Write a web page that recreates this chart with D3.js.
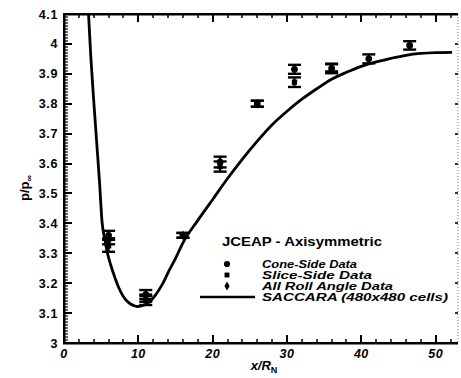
<!DOCTYPE html>
<html>
<head>
<meta charset="utf-8">
<script src="https://cdn.jsdelivr.net/npm/d3@7"></script>
<style>
  html, body { margin: 0; padding: 0; background: #fff; }
  svg { display: block; }
  .lbl { font-family: "Liberation Sans", Arial, Helvetica, sans-serif; font-weight: bold; fill: #000; }
</style>
</head>
<body>
<svg id="chart" width="461" height="378" viewBox="0 0 461 378"></svg>
<script>
// Wall pressure ratio along the JCEAP axisymmetric body
const xTicks = [0, 10, 20, 30, 40, 50];
const yTicks = [3, 3.1, 3.2, 3.3, 3.4, 3.5, 3.6, 3.7, 3.8, 3.9, 4, 4.1];
const yTickLabels = ["3", "3.1", "3.2", "3.3", "3.4", "3.5", "3.6", "3.7", "3.8", "3.9", "4", "4.1"];

// Measured data: station x/R_N, mean p/p_inf and half-width of the scatter band
const coneX = [6, 11, 16, 21, 26, 31, 36, 41, 46.5];
const coneP = [3.36, 3.162, 3.36, 3.605, 3.80, 3.915, 3.918, 3.95, 3.995];
const coneErr = [0.015, 0.015, 0.008, 0.018, 0.01, 0.015, 0.016, 0.015, 0.014];

const sliceX = [6, 11, 21, 31];
const sliceP = [3.325, 3.142, 3.59, 3.872];
const sliceErr = [0.02, 0.015, 0.017, 0.016];

const rollX = [6, 11, 16, 26, 36];
const rollP = [3.34, 3.15, 3.36, 3.80, 3.92];
const rollErr = [0.01, 0.012, 0.008, 0.01, 0.012];

// SACCARA (480x480 cells) computed distribution
const saccaraX = [3.3, 3.6, 4.0, 4.4, 4.8, 5.1, 5.5, 5.8, 6.3, 6.9, 7.4, 8.0, 8.7, 9.4, 9.8, 10.4, 11.4, 12.3, 13.2, 14.1, 15.0, 16.0, 18, 20, 22, 24, 26, 28, 30, 32, 34, 36, 38, 40, 42, 44, 46, 48, 50, 52.2];
const saccaraP = [4.10, 3.96, 3.81, 3.67, 3.53, 3.41, 3.345, 3.305, 3.26, 3.215, 3.183, 3.155, 3.135, 3.125, 3.122, 3.124, 3.135, 3.16, 3.195, 3.24, 3.283, 3.335, 3.41, 3.48, 3.55, 3.615, 3.675, 3.73, 3.775, 3.815, 3.85, 3.882, 3.905, 3.925, 3.94, 3.952, 3.962, 3.968, 3.971, 3.972];

const legendTitle = "JCEAP - Axisymmetric";
const legendLabels = ["Cone-Side Data", "Slice-Side Data", "All Roll Angle Data", "SACCARA (480x480 cells)"];

const svg = d3.select("#chart");
const plotLeft = 64, plotRight = 458, plotTop = 14, plotBottom = 343;

const x = d3.scaleLinear().domain([0, 53]).range([plotLeft, plotRight]);
const y = d3.scaleLinear().domain([3, 4.1]).range([plotBottom, plotTop]);

const xMinor = d3.range(2, 53, 2).filter(v => v % 10 !== 0);
const yMinor = d3.range(0, 111).map(i => +(3 + i * 0.01).toFixed(2)).filter(v => Math.round(v * 100) % 10 !== 0);

const frame = svg.append("g").attr("class", "frame");

// Vertical tick bars on the top and bottom edges
function xTickRects(values, yStart, h, w) {
  frame.append("g").selectAll("rect").data(values).join("rect")
    .attr("x", d => Math.round(x(d)) - w / 2).attr("y", yStart)
    .attr("width", w).attr("height", h).attr("fill", "#000");
}
// Horizontal tick bars on the left and right edges
function yTickRects(values, xStart, len, h, color) {
  frame.append("g").selectAll("rect").data(values).join("rect")
    .attr("x", xStart).attr("y", d => Math.round(y(d)) - h / 2)
    .attr("width", len).attr("height", h).attr("fill", color || "#000");
}

// Dotted right frame with short inward ticks
frame.append("line").attr("x1", plotRight).attr("x2", plotRight)
  .attr("y1", plotTop).attr("y2", plotBottom)
  .attr("stroke", "#777").attr("stroke-width", 1).attr("stroke-dasharray", "1,2");
yTickRects(yTicks, plotRight - 3, 3, 2, "#333");

// Top edge
frame.append("rect").attr("x", plotLeft).attr("y", plotTop - 1).attr("width", plotRight - plotLeft).attr("height", 2.5).attr("fill", "#000");
xTickRects(xTicks, plotTop, 8, 2);
xTickRects(xMinor, plotTop, 4, 1.5);

// Bottom edge
frame.append("rect").attr("x", plotLeft - 1).attr("y", plotBottom - 1).attr("width", plotRight - plotLeft + 1).attr("height", 2.5).attr("fill", "#000");
xTickRects(xTicks, plotBottom - 8, 8, 2);
xTickRects(xMinor, plotBottom - 4, 4, 1.5);

// Left edge
frame.append("rect").attr("x", plotLeft - 1).attr("y", plotTop - 1).attr("width", 2.5).attr("height", plotBottom - plotTop + 2).attr("fill", "#000");
yTickRects(yTicks, plotLeft, 8, 2);
yTickRects(yMinor, plotLeft, 4, 1.2);

// Tick labels
svg.append("g").selectAll("text").data(xTicks).join("text")
  .attr("class", "lbl")
  .attr("x", d => x(d)).attr("y", plotBottom + 15)
  .attr("text-anchor", "middle").attr("font-size", 12.5).attr("font-style", "italic")
  .attr("letter-spacing", 0.5)
  .text(d3.format("d"));

svg.append("g").selectAll("text").data(yTicks).join("text")
  .attr("class", "lbl")
  .attr("x", plotLeft - 6).attr("y", d => y(d) + 4.5)
  .attr("text-anchor", "end").attr("font-size", 12.5)
  .attr("letter-spacing", 0.6)
  .text((d, i) => yTickLabels[i]);

// Axis titles
const yTitle = svg.append("text").attr("class", "lbl")
  .attr("transform", `translate(29,188) rotate(-90)`)
  .attr("text-anchor", "middle").attr("font-size", 13);
yTitle.append("tspan").text("p/p");
yTitle.append("tspan").attr("dy", 3).attr("font-size", 9).text("\u221E");

const xTitle = svg.append("text").attr("class", "lbl")
  .attr("x", 264).attr("y", 370).attr("text-anchor", "middle").attr("font-size", 13)
  .attr("font-style", "italic");
xTitle.append("tspan").text("x/R");
xTitle.append("tspan").attr("dy", 3).attr("font-size", 9).attr("font-style", "normal").text("N");

// Plot region clip
svg.append("clipPath").attr("id", "plot-clip")
  .append("rect").attr("x", plotLeft).attr("y", plotTop).attr("width", plotRight - plotLeft).attr("height", plotBottom - plotTop);

// SACCARA curve
const line = d3.line()
  .x((d, i) => x(saccaraX[i]))
  .y(d => y(d))
  .curve(d3.curveMonotoneX);
svg.append("path")
  .datum(saccaraP)
  .attr("clip-path", "url(#plot-clip)")
  .attr("fill", "none").attr("stroke", "#000").attr("stroke-width", 2.8)
  .attr("stroke-linejoin", "round")
  .attr("d", line);

// Error bars and symbols
const symbolShapes = [d3.symbolCircle, d3.symbolSquare, d3.symbolDiamond];
const series = [
  { xs: coneX, ps: coneP, es: coneErr, shape: symbolShapes[0], size: 36 },
  { xs: sliceX, ps: sliceP, es: sliceErr, shape: symbolShapes[1], size: 28 },
  { xs: rollX, ps: rollP, es: rollErr, shape: symbolShapes[2], size: 28 }
];
const capHalf = 6.5;
series.forEach(s => {
  const pts = s.xs.map((v, i) => ({ x: v, p: s.ps[i], e: s.es[i] }));
  const g = svg.append("g");
  const bars = g.selectAll("g.bar").data(pts).join("g").attr("class", "bar");
  bars.append("line")
    .attr("x1", d => x(d.x)).attr("x2", d => x(d.x))
    .attr("y1", d => y(d.p - d.e)).attr("y2", d => y(d.p + d.e))
    .attr("stroke", "#000").attr("stroke-width", 2.2);
  bars.append("line")
    .attr("x1", d => x(d.x) - capHalf).attr("x2", d => x(d.x) + capHalf)
    .attr("y1", d => y(d.p + d.e)).attr("y2", d => y(d.p + d.e))
    .attr("stroke", "#000").attr("stroke-width", 2.4);
  bars.append("line")
    .attr("x1", d => x(d.x) - capHalf).attr("x2", d => x(d.x) + capHalf)
    .attr("y1", d => y(d.p - d.e)).attr("y2", d => y(d.p - d.e))
    .attr("stroke", "#000").attr("stroke-width", 2.4);
  bars.append("path")
    .attr("transform", d => `translate(${x(d.x)},${y(d.p)})`)
    .attr("d", d3.symbol(s.shape, s.size))
    .attr("fill", "#000");
});

// Legend
svg.append("text").attr("class", "lbl").attr("x", 222).attr("y", 246).attr("font-size", 12)
  .attr("textLength", 160).attr("lengthAdjust", "spacingAndGlyphs").text(legendTitle);

const legendRowY = [264, 275, 286, 297];
const legendWidths = [95, 110, 131, 186];
legendLabels.forEach((lab, i) => {
  svg.append("text").attr("class", "lbl").attr("x", 262).attr("y", legendRowY[i] + 4)
    .attr("font-size", 11).attr("font-style", "italic")
    .attr("textLength", legendWidths[i]).attr("lengthAdjust", "spacingAndGlyphs")
    .text(lab);
  if (i < 3) {
    svg.append("path")
      .attr("transform", `translate(227,${legendRowY[i]})`)
      .attr("d", d3.symbol(symbolShapes[i], i === 0 ? 30 : 24))
      .attr("fill", "#000");
  }
});
svg.append("line").attr("x1", 200).attr("x2", 255)
  .attr("y1", legendRowY[3]).attr("y2", legendRowY[3])
  .attr("stroke", "#000").attr("stroke-width", 2.5);
</script>
</body>
</html>
